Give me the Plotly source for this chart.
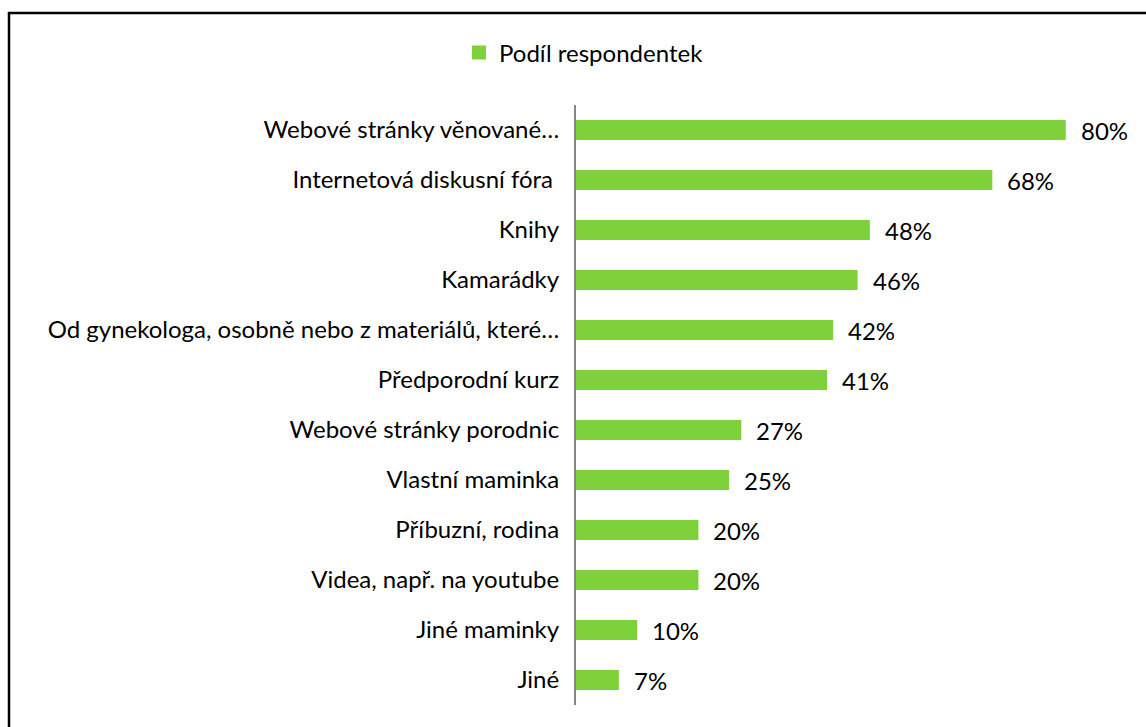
import plotly.graph_objects as go

categories = [
    "Webové stránky věnované…",
    "Internetová diskusní fóra ",
    "Knihy",
    "Kamarádky",
    "Od gynekologa, osobně nebo z materiálů, které…",
    "Předporodní kurz",
    "Webové stránky porodnic",
    "Vlastní maminka",
    "Příbuzní, rodina",
    "Videa, např. na youtube",
    "Jiné maminky",
    "Jiné",
]
values = [80, 68, 48, 46, 42, 41, 27, 25, 20, 20, 10, 7]
series_name = "Podíl respondentek"

W, H = 1146, 727
L, R, T, B = 576, 19, 105, 22
pw, ph = W - L - R, H - T - B
FONT = "Lato"
FS = 24
GREEN = "#7FD13B"

fig = go.Figure()
fig.add_trace(go.Bar(
    y=categories, x=values, orientation="h", name=series_name,
    marker=dict(color=GREEN, line=dict(width=0)),
    showlegend=False,
))
fig.add_trace(go.Scatter(
    x=[None], y=[None], mode="markers", name=series_name,
    marker=dict(symbol="square", size=14, color=GREEN),
    showlegend=True,
))

for c, v in zip(categories, values):
    fig.add_annotation(x=v, y=c, text=f"{v}%", showarrow=False,
                       xanchor="left", xshift=13,
                       font=dict(family=FONT, size=FS, color="#000000"))

fig.add_shape(type="rect", xref="paper", yref="paper",
              x0=(9 - L) / pw, x1=(W + 10 - L) / pw,
              y0=-(B + 10) / ph, y1=(H - B - 13) / ph,
              line=dict(color="#000000", width=2.5), fillcolor="rgba(0,0,0,0)",
              layer="above")

fig.update_layout(
    width=W, height=H,
    margin=dict(l=L, r=R, t=T, b=B, autoexpand=False),
    paper_bgcolor="white", plot_bgcolor="white",
    bargap=0.6,
    font=dict(family=FONT, size=FS, color="#000000"),
    legend=dict(orientation="h", x=(584 - L) / pw, xanchor="center",
                y=(H - B - 53) / ph, yanchor="middle",
                font=dict(family=FONT, size=FS, color="#000000"),
                itemwidth=30, bgcolor="rgba(0,0,0,0)"),
    xaxis=dict(range=[0, 90], showgrid=False, zeroline=False,
               showticklabels=False, showline=False, fixedrange=True),
    yaxis=dict(autorange="reversed", showgrid=False, zeroline=False,
               showline=True, linecolor="#868686", linewidth=2,
               ticks="", ticklabelstandoff=10, automargin=False),
)

fig.write_html("out.html")
